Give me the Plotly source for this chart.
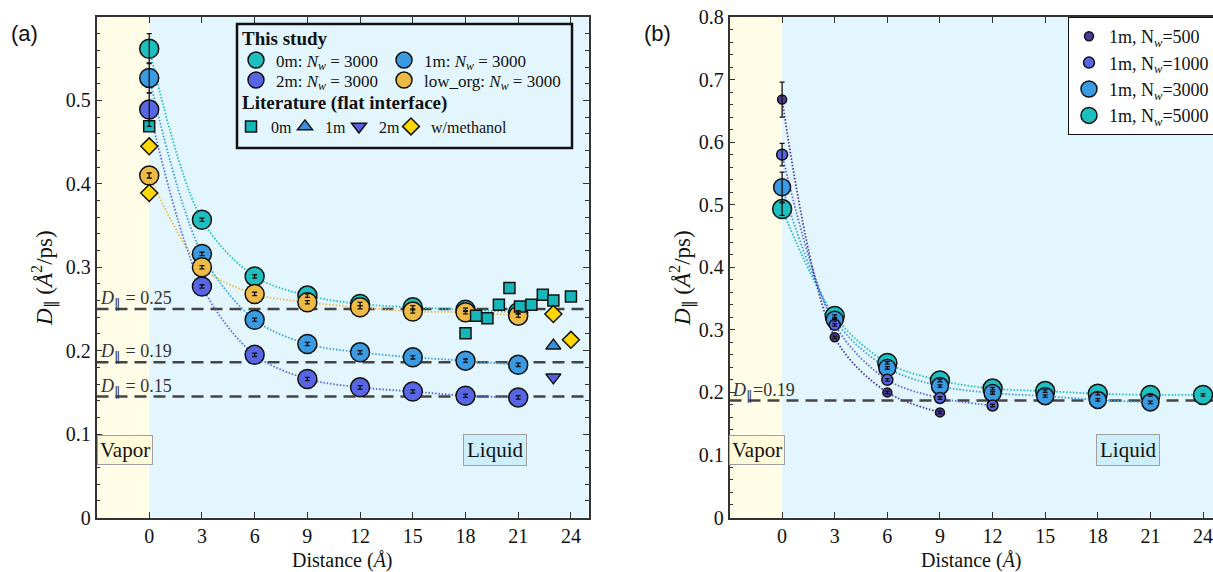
import plotly.graph_objects as go

W, H = 1213, 572

# ---------------- Panel (a) data ----------------
dist_a = [0, 3, 6, 9, 12, 15, 18, 21]
d_0m = [0.562, 0.357, 0.289, 0.266, 0.256, 0.252, 0.249, 0.246]
d_1m = [0.527, 0.316, 0.237, 0.208, 0.198, 0.192, 0.188, 0.183]
d_2m = [0.489, 0.277, 0.195, 0.166, 0.156, 0.151, 0.146, 0.144]
d_low = [0.410, 0.300, 0.268, 0.258, 0.252, 0.247, 0.246, 0.242]
e_0m = [0.018, 0.002, 0.002, 0.002, 0.002, 0.002, 0.002, 0.002]
e_1m = [0.018, 0.002, 0.002, 0.002, 0.002, 0.002, 0.002, 0.002]
e_2m = [0.020, 0.002, 0.002, 0.002, 0.002, 0.002, 0.002, 0.002]
e_low = [0.003, 0.002, 0.002, 0.002, 0.002, 0.002, 0.002, 0.002]

lit_0m_x = [0, 18, 18.6, 19.25, 19.9, 20.5, 21.1, 21.75, 22.4, 23.0, 24.0]
lit_0m_y = [0.469, 0.221, 0.242, 0.239, 0.255, 0.275, 0.253, 0.255, 0.267, 0.260, 0.265]
lit_1m_x = [23.0]
lit_1m_y = [0.206]
lit_2m_x = [23.0]
lit_2m_y = [0.168]
lit_meth_x = [0, 0, 23.0, 24.0]
lit_meth_y = [0.445, 0.389, 0.244, 0.213]

ref_a_vals = [0.25, 0.186, 0.145]
ref_a_labels = ["0.25", "0.19", "0.15"]

# ---------------- Panel (b) data ----------------
dist_500 = [0, 3, 6, 9]
d_500 = [0.668, 0.288, 0.200, 0.168]
e_500 = [0.028, 0.002, 0.002, 0.002]
dist_1000 = [0, 3, 6, 9, 12]
d_1000 = [0.580, 0.308, 0.220, 0.191, 0.179]
e_1000 = [0.018, 0.002, 0.002, 0.002, 0.002]
dist_3000 = [0, 3, 6, 9, 12, 15, 18, 21]
d_3000 = [0.528, 0.316, 0.239, 0.210, 0.199, 0.194, 0.188, 0.184]
e_3000 = [0.024, 0.002, 0.002, 0.002, 0.002, 0.002, 0.002, 0.002]
dist_5000 = [0, 3, 6, 9, 12, 15, 18, 21, 24]
d_5000 = [0.493, 0.322, 0.247, 0.219, 0.206, 0.202, 0.198, 0.196, 0.196]
e_5000 = [0.010, 0.002, 0.002, 0.002, 0.002, 0.002, 0.002, 0.002, 0.002]

ref_b_vals = [0.187]
ref_b_labels = ["0.19"]

x_ticks = [0, 3, 6, 9, 12, 15, 18, 21, 24]
y_ticks_a = [0, 0.1, 0.2, 0.3, 0.4, 0.5]
y_ticks_b = [0, 0.1, 0.2, 0.3, 0.4, 0.5, 0.6, 0.7, 0.8]

# ---------------- styling ----------------
C0 = '#1EBFBF'
C1 = '#3A9BE2'
C2 = '#5866E6'
CL = '#EDBB46'
CSQ = '#17B6B8'
CTU = '#3A8FDC'
CTD = '#5A60E2'
CDI = '#FFD700'
C500 = '#4A3B9C'
LIQ = '#E4F6FD'
VAP = '#FFFDE8'
SERIF = 'Liberation Serif, Times New Roman, serif'

fig = go.Figure()


def fit_line(x, y, color, xa, ya):
    fig.add_trace(go.Scatter(x=x, y=y, mode='lines', xaxis=xa, yaxis=ya,
                             line=dict(color=color, width=1.8, dash='1.5px,1.8px', shape='spline', smoothing=0.9),
                             showlegend=False, hoverinfo='skip'))


def markers(x, y, name, color, size, symbol, xa, ya, legend, rank=None):
    fig.add_trace(go.Scatter(x=x, y=y, mode='markers', name=name, xaxis=xa, yaxis=ya,
                             marker=dict(color=color, size=size, symbol=symbol,
                                         line=dict(color='#111111', width=1.5)),
                             legend=legend, legendrank=rank if rank else 1000, cliponaxis=False))


def errs(x, y, e, xa, ya):
    fig.add_trace(go.Scatter(x=x, y=y, mode='markers', xaxis=xa, yaxis=ya,
                             marker=dict(size=1, opacity=0),
                             error_y=dict(type='data', array=e, visible=True, color='#111111',
                                          thickness=1.3, width=2.5),
                             showlegend=False, hoverinfo='skip'))


# panel (a)
for yy, cc in [(d_0m, C0), (d_1m, C1), (d_2m, C2), (d_low, CL)]:
    fit_line(dist_a, yy, cc, 'x', 'y')

NW = '<i>N</i><sub><i>w</i></sub> = 3000'
markers(dist_a, d_0m, '0m: ' + NW, C0, 19, 'circle', 'x', 'y', 'legend')
markers(dist_a, d_1m, '1m: ' + NW, C1, 19, 'circle', 'x', 'y', 'legend2')
markers(dist_a, d_2m, '2m: ' + NW, C2, 19, 'circle', 'x', 'y', 'legend6')
markers(dist_a, d_low, 'low_org: ' + NW, CL, 19, 'circle', 'x', 'y', 'legend7')
markers(lit_0m_x, lit_0m_y, '0m', CSQ, 11, 'square', 'x', 'y', 'legend3')
markers(lit_1m_x, lit_1m_y, '1m', CTU, 13, 'triangle-up', 'x', 'y', 'legend8')
markers(lit_2m_x, lit_2m_y, '2m', CTD, 13, 'triangle-down', 'x', 'y', 'legend9')
markers(lit_meth_x, lit_meth_y, 'w/methanol', CDI, 13, 'diamond', 'x', 'y', 'legend5')
for yy, ee in [(d_0m, e_0m), (d_1m, e_1m), (d_2m, e_2m), (d_low, e_low)]:
    errs(dist_a, yy, ee, 'x', 'y')

# panel (b)
fit_line(dist_5000, d_5000, C0, 'x2', 'y2')
fit_line(dist_3000, d_3000, C1, 'x2', 'y2')
fit_line(dist_1000, d_1000, C2, 'x2', 'y2')
fit_line(dist_500, d_500, C500, 'x2', 'y2')
NB = '1m, N<sub><i>w</i></sub>='
markers(dist_5000, d_5000, NB + '5000', C0, 19, 'circle', 'x2', 'y2', 'legend4', 4)
markers(dist_3000, d_3000, NB + '3000', C1, 17, 'circle', 'x2', 'y2', 'legend4', 3)
markers(dist_1000, d_1000, NB + '1000', C2, 11, 'circle', 'x2', 'y2', 'legend4', 2)
markers(dist_500, d_500, NB + '500', C500, 9, 'circle', 'x2', 'y2', 'legend4', 1)
for xx, yy, ee in [(dist_5000, d_5000, e_5000), (dist_3000, d_3000, e_3000),
                   (dist_1000, d_1000, e_1000), (dist_500, d_500, e_500)]:
    errs(xx, yy, ee, 'x2', 'y2')

# ---------------- axes ----------------
ax_common = dict(showline=True, linecolor='#333333', linewidth=1.5, ticks='inside', tickcolor='#333333',
                 ticklen=6, tickwidth=1.2, showgrid=False, zeroline=False, automargin=False,
                 ticklabeloverflow='allow',
                 tickfont=dict(family=SERIF, size=20, color='#111111'))
ydom = [1 - 517.5 / H, 1 - 17 / H]
fig.update_layout(
    xaxis=dict(ax_common, domain=[96.5 / W, 588.5 / W], range=[-3, 25], tickvals=x_ticks, mirror='ticks',
               anchor='y'),
    yaxis=dict(ax_common, domain=ydom, range=[0, 0.6], tickvals=y_ticks_a, mirror='ticks', anchor='x',
               minor=dict(ticks='inside', tickmode='linear', tick0=0, dtick=0.02, ticklen=3.5,
                          tickcolor='#333333', showgrid=False)),
    xaxis2=dict(ax_common, domain=[729.5 / W, 1.0], range=[-3, 24.57], tickvals=x_ticks, mirror='ticks',
                anchor='y2'),
    yaxis2=dict(ax_common, domain=ydom, range=[0, 0.8], tickvals=y_ticks_b, mirror=False, anchor='x2',
                minor=dict(ticks='inside', tickmode='linear', tick0=0, dtick=0.02, ticklen=3.5,
                           tickcolor='#333333', showgrid=False)),
)

shapes = []
annotations = []
for xa, ya, top in [('x', 'y', 0.6), ('x2', 'y2', 0.8)]:
    shapes.append(dict(type='rect', xref=xa, yref=ya, x0=-3, x1=0, y0=0, y1=top, fillcolor=VAP,
                       line=dict(width=0), layer='below'))
for xa, ya, vals, labs, fmt in [('x', 'y', ref_a_vals, ref_a_labels, ' = '),
                                ('x2', 'y2', ref_b_vals, ref_b_labels, '=')]:
    for v, lab in zip(vals, labs):
        shapes.append(dict(type='line', xref=xa, yref=ya, x0=-3, x1=25, y0=v, y1=v,
                           line=dict(color='#444444', width=2.5, dash='12px,7px'), layer='below'))
        annotations.append(dict(xref=xa, yref=ya, x=-3, y=v, xanchor='left', yanchor='bottom',
                                xshift=1, yshift=-4, showarrow=False,
                                text='<i>D</i><sub>∥</sub>' + fmt + lab,
                                font=dict(family=SERIF, size=18, color='#333333')))

# region labels
for xa, ya, yv in [('x', 'y', 0.081), ('x2', 'y2', 0.108)]:
    annotations.append(dict(xref=xa, yref=ya, x=-3, y=yv, xanchor='left', yanchor='middle', showarrow=False,
                            text='Vapor', bgcolor='#FFFBDA', bordercolor='#A0A0A0', borderwidth=1, borderpad=2,
                            font=dict(family=SERIF, size=21, color='#111111')))
    annotations.append(dict(xref=xa, yref=ya, x=19.7, y=yv, xanchor='center', yanchor='middle', showarrow=False,
                            text='Liquid', bgcolor='#CDEEFB', bordercolor='#A0A0A0', borderwidth=1, borderpad=3,
                            font=dict(family=SERIF, size=21, color='#111111')))

# legend box for (a)
shapes.append(dict(type='rect', xref='paper', yref='paper', x0=237 / W, x1=572 / W, y0=1 - 148 / H,
                   y1=1 - 24 / H, fillcolor=LIQ, line=dict(color='#111111', width=2.5), layer='above'))
annotations.append(dict(xref='paper', yref='paper', x=240 / W, y=1 - 38 / H, xanchor='left', yanchor='middle',
                        showarrow=False, text='<b>This study</b>',
                        font=dict(family=SERIF, size=19, color='#111111')))
annotations.append(dict(xref='paper', yref='paper', x=240 / W, y=1 - 103 / H, xanchor='left', yanchor='middle',
                        showarrow=False, text='<b>Literature (flat interface)</b>',
                        font=dict(family=SERIF, size=19, color='#111111')))

# axis titles
ytitle = '<i>D</i><sub>∥</sub> (<i>Å</i><sup>2</sup>/ps)'
xtitle = 'Distance (<i>Å</i>)'
for xp in [342.5 / W, 971 / W]:
    annotations.append(dict(xref='paper', yref='paper', x=xp, y=1 - 560 / H, showarrow=False, text=xtitle,
                            xanchor='center', yanchor='middle', font=dict(family=SERIF, size=20, color='#111111')))
for xp in [44 / W, 682 / W]:
    annotations.append(dict(xref='paper', yref='paper', x=xp, y=1 - 278 / H, showarrow=False, text=ytitle,
                            textangle=-90, xanchor='center', yanchor='middle',
                            font=dict(family=SERIF, size=23, color='#111111')))
for xp, t in [(24 / W, '(a)'), (657 / W, '(b)')]:
    annotations.append(dict(xref='paper', yref='paper', x=xp, y=1 - 33 / H, showarrow=False, text=t,
                            xanchor='center', yanchor='middle',
                            font=dict(family='Liberation Sans, Arial, sans-serif', size=22, color='#111111')))

leg_font = dict(family=SERIF, size=17, color='#111111')
lit_font = dict(family=SERIF, size=16, color='#111111')


def leg(sym_x, row_y, font=leg_font):
    # single-entry legend placed so that its symbol sits at (sym_x, row_y) in pixels
    return dict(x=(sym_x - 19) / W, y=1 - (row_y - 16.5) / H, xanchor='left', yanchor='top',
                bgcolor='rgba(0,0,0,0)', font=font, borderwidth=0, orientation='h')


fig.update_layout(
    width=W, height=H, margin=dict(l=0, r=0, t=0, b=0, autoexpand=False),
    paper_bgcolor='white', plot_bgcolor=LIQ,
    shapes=shapes, annotations=annotations,
    legend=leg(255, 59), legend2=leg(403, 59),
    legend6=leg(255, 79), legend7=leg(403, 79),
    legend3=leg(250, 126, lit_font), legend8=leg(304, 126, lit_font), legend9=leg(358, 126, lit_font),
    legend5=leg(410, 126, lit_font),
    legend4=dict(x=1068 / W, y=1 - 17 / H, xanchor='left', yanchor='top', bgcolor='white',
                 bordercolor='#111111', borderwidth=1, font=dict(family=SERIF, size=18, color='#111111'),
                 tracegroupgap=0),
    showlegend=True,
)

fig.write_html('out.html')
